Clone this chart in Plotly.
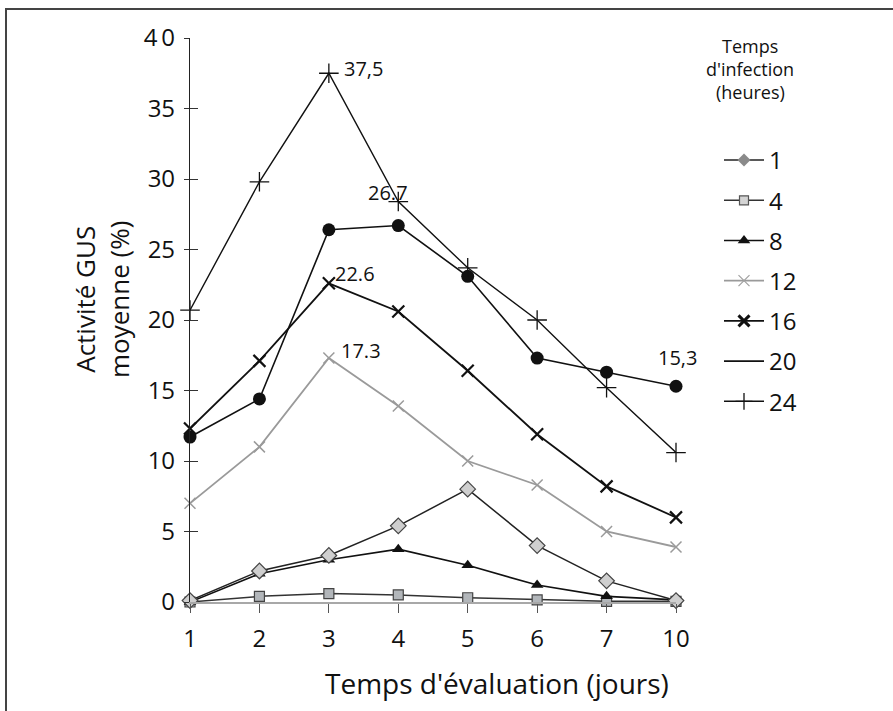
import plotly.graph_objects as go

days = ["1", "2", "3", "4", "5", "6", "7", "10"]
h1 = [0.1, 2.2, 3.3, 5.4, 8.0, 4.0, 1.5, 0.1]
h4 = [0.0, 0.4, 0.6, 0.5, 0.3, 0.15, 0.05, 0.05]
h8 = [0.0, 2.0, 3.0, 3.75, 2.6, 1.2, 0.4, 0.15]
h12 = [7.0, 11.0, 17.3, 13.9, 10.0, 8.3, 5.0, 3.9]
h16 = [12.3, 17.1, 22.6, 20.6, 16.4, 11.9, 8.2, 6.0]
h20 = [11.7, 14.4, 26.4, 26.7, 23.1, 17.3, 16.3, 15.3]
h24 = [20.7, 29.8, 37.5, 28.4, 23.7, 20.0, 15.2, 10.6]
series_names = ["1", "4", "8", "12", "16", "20", "24"]
y_ticks = [0, 5, 10, 15, 20, 25, 30, 35, 40]
y_ticktext = ["0", "5", "10", "15", "20", "25", "30", "35", "4\u20090"]
labels = [("3", 37.5, "37,5"), ("4", 26.7, "26.7"), ("3", 22.6, "22.6"),
          ("3", 17.3, "17.3"), ("10", 15.3, "15,3")]
legend_title = ["Temps", "d'infection", "(heures)"]

FONT = "Open Sans"
INK = "#111111"

styles = {
    "1": dict(line=dict(color="#222222", width=1.5),
              marker=dict(symbol="diamond", size=12, color="#cfcfcf", line=dict(color="#444444", width=1.2)),
              leg_marker=dict(symbol="diamond", size=10, color="#8a8a8a")),
    "4": dict(line=dict(color="#333333", width=1.5),
              marker=dict(symbol="square", size=10, color="#b2b6ba", line=dict(color="#444444", width=1.2)),
              leg_marker=dict(symbol="square", size=9, color="#d4d4d4", line=dict(color="#555555", width=1.2))),
    "8": dict(line=dict(color="#111111", width=1.6),
              marker=dict(symbol="triangle-up", size=11, color="#111111"),
              leg_marker=dict(symbol="triangle-up", size=11, color="#111111")),
    "12": dict(line=dict(color="#9a9a9a", width=1.8),
               marker=dict(symbol="x-thin", size=11, color="#9a9a9a", line=dict(color="#9a9a9a", width=1.5)),
               leg_marker=dict(symbol="x-thin", size=11, color="#a0a0a0", line=dict(color="#a0a0a0", width=1.2))),
    "16": dict(line=dict(color="#111111", width=1.8),
               marker=dict(symbol="x-thin", size=12, color="#111111", line=dict(color="#111111", width=2.2)),
               leg_marker=dict(symbol="x-thin", size=11, color="#111111", line=dict(color="#111111", width=3))),
    "20": dict(line=dict(color="#111111", width=1.6),
               marker=dict(symbol="circle", size=13, color="#111111"),
               leg_marker=None),
    "24": dict(line=dict(color="#111111", width=1.4),
               marker=dict(symbol="cross-thin", size=14, color="#111111", line=dict(color="#111111", width=1.3)),
               leg_marker=dict(symbol="cross-thin", size=12, color="#111111", line=dict(color="#111111", width=1.3))),
}
values = {"1": h1, "4": h4, "8": h8, "12": h12, "16": h16, "20": h20, "24": h24}

L, R, T, B = 190, 676, 38, 602
W, H = 893, 711

def px(xp):
    return (xp - L) / (R - L)

def py(yp):
    return (B - yp) / (B - T)

fig = go.Figure()
draw_order = ["4", "8", "1", "12", "16", "20", "24"]
for name in draw_order:
    st = styles[name]
    fig.add_trace(go.Scatter(x=days, y=values[name], mode="lines+markers",
                             line=st["line"], marker=st["marker"], showlegend=False,
                             cliponaxis=False, hoverinfo="skip"))

for i, name in enumerate(series_names):
    st = styles[name]
    if st["leg_marker"] is None:
        fig.add_trace(go.Scatter(x=[None], y=[None], mode="lines", name=name,
                                 line=dict(color="#111111", width=1.6),
                                 legendgroup=name, legendrank=i + 1))
    else:
        fig.add_trace(go.Scatter(x=[None], y=[None], mode="lines+markers", name=name,
                                 line=st["line"], marker=st["leg_marker"],
                                 legendgroup=name, legendrank=i + 1))

# invisible trace on overlay axis so that the inner tick marks are drawn
fig.add_trace(go.Scatter(x=[None], y=[None], yaxis="y2", showlegend=False, hoverinfo="skip"))

label_fmt = {
    "37,5": dict(xanchor="left", xshift=13, yshift=5),
    "26.7": dict(xanchor="center", xshift=-10, yshift=33),
    "22.6": dict(xanchor="left", xshift=4, yshift=10),
    "17.3": dict(xanchor="left", xshift=10, yshift=8),
    "15,3": dict(xanchor="center", xshift=1, yshift=29),
}
for xv, yv, txt in labels:
    f = label_fmt[txt]
    fig.add_annotation(x=days.index(xv), y=yv, xref="x", yref="y", text=txt, showarrow=False,
                       xanchor=f["xanchor"], yanchor="middle", xshift=f["xshift"], yshift=f["yshift"],
                       font=dict(family=FONT, size=20, color=INK))

# legend title (three lines, tight spacing)
for k, line_txt in enumerate(legend_title):
    fig.add_annotation(x=px(750), y=py(46 + 23 * k), xref="paper", yref="paper", text=line_txt,
                       showarrow=False, xanchor="center", yanchor="middle",
                       font=dict(family=FONT, size=18, color=INK))
# axis titles
fig.add_annotation(x=px(497), y=py(683), xref="paper", yref="paper", text="Temps d'évaluation (jours)",
                   showarrow=False, xanchor="center", yanchor="middle",
                   font=dict(family=FONT, size=28, color=INK))
fig.add_annotation(x=px(102), y=py(300), xref="paper", yref="paper", text="Activité GUS<br>moyenne (%)",
                   showarrow=False, textangle=-90, xanchor="center", yanchor="middle",
                   font=dict(family=FONT, size=26, color=INK))

fig.add_shape(type="rect", xref="paper", yref="paper", x0=px(6), x1=2, y0=-1, y1=py(9),
              line=dict(color="#444444", width=2), fillcolor="rgba(0,0,0,0)")

fig.update_layout(
    width=W, height=H,
    margin=dict(l=L, r=W - R, t=T, b=H - B),
    paper_bgcolor="white", plot_bgcolor="white",
    font=dict(family=FONT, color=INK),
    xaxis=dict(type="category", range=[0, 7], showgrid=False, zeroline=False,
               showline=True, linecolor="#a8a8a8", linewidth=1.5,
               ticks="outside", ticklen=9, tickcolor="#555555", tickwidth=1.2,
               tickfont=dict(family=FONT, size=24, color=INK), ticklabelstandoff=5),
    yaxis=dict(range=[0, 40], tickvals=y_ticks, ticktext=y_ticktext, showgrid=False, zeroline=False,
               showline=True, linecolor="#222222", linewidth=1.2,
               ticks="outside", ticklen=5, tickcolor="#333333", tickwidth=1.2,
               tickfont=dict(family=FONT, size=24, color=INK), ticklabelstandoff=4),
    yaxis2=dict(range=[0, 40], tickvals=y_ticks, overlaying="y", side="left", anchor="x",
                showgrid=False, zeroline=False, showline=False, showticklabels=False,
                ticks="inside", ticklen=8, tickcolor="#333333", tickwidth=1.2),
    legend=dict(x=px(719), y=py(138), xanchor="left", yanchor="top",
                font=dict(family=FONT, size=24, color=INK),
                tracegroupgap=6, itemwidth=40, bgcolor="rgba(0,0,0,0)"),
    showlegend=True,
)

fig.write_html("out.html")
